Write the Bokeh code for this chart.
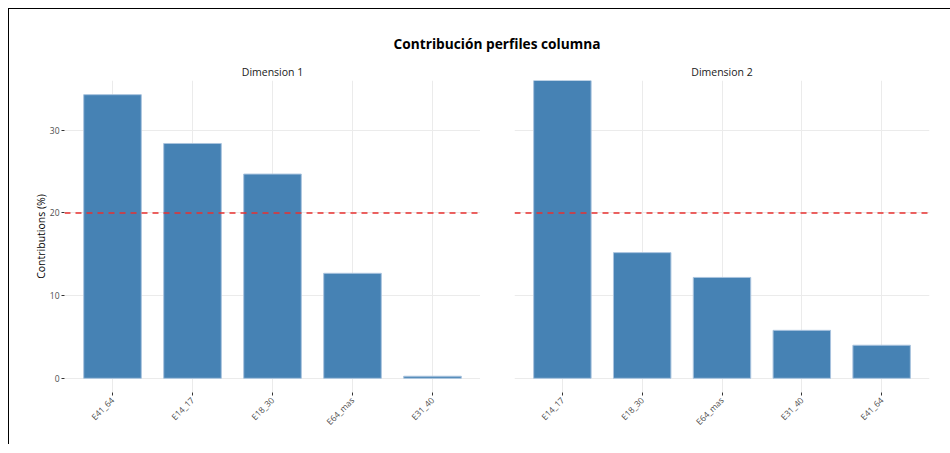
import math
from bokeh.plotting import figure
from bokeh.models import Range1d, FixedTicker, Span, Div, ColumnDataSource
from bokeh.layouts import row, column
from bokeh.embed import file_html
from bokeh.resources import INLINE

# ---- data ----
title_text = "Contribución perfiles columna"
dim1_name = "Dimension 1"
dim1_cats = ["E41_64", "E14_17", "E18_30", "E64_mas", "E31_40"]
dim1_vals = [34.3, 28.4, 24.7, 12.7, 0.25]
dim2_name = "Dimension 2"
dim2_cats = ["E14_17", "E18_30", "E64_mas", "E31_40", "E41_64"]
dim2_vals = [62.8, 15.2, 12.2, 5.8, 4.0]
ref_line = 20.0
y_ticks = [0, 10, 20, 30]
y_label = "Contributions (%)"

FONT = "Open Sans"
BAR = "#4682B4"
GRID = "#ebebeb"

ymax = max(dim1_vals)
y_lo, y_hi = -0.05 * ymax, 1.05 * ymax


def panel(name, cats, vals, left, right, show_y):
    n = len(cats)
    xs = list(range(1, n + 1))
    p = figure(output_backend="svg", toolbar_location=None,
               frame_width=416 if show_y else 415, frame_height=312,
               min_border_left=left, min_border_right=right,
               min_border_top=0, min_border_bottom=52,
               x_range=Range1d(0.4, n + 0.6), y_range=Range1d(y_lo, y_hi),
               title=name)
    p.title.align = "center"
    p.title.text_font = FONT
    p.title.text_font_size = "10.5px"
    p.title.text_font_style = "normal"
    p.title.text_color = "#1a1a1a"
    p.title.standoff = 3
    p.outline_line_color = None
    p.background_fill_color = "white"
    p.border_fill_color = "white"
    src = ColumnDataSource(dict(x=xs, top=vals))
    p.vbar(x="x", top="top", bottom=0, width=0.72, source=src,
           fill_color=BAR, line_color="#a9c3de", line_width=1)
    p.add_layout(Span(location=ref_line, dimension="width",
                      line_color="#e8312f", line_dash="6 5", line_width=1.4))
    # x axis
    p.xaxis.ticker = FixedTicker(ticks=xs)
    p.xaxis.major_label_overrides = {x: c for x, c in zip(xs, cats)}
    p.xaxis.major_label_orientation = math.pi / 4
    p.xaxis.major_label_text_font = FONT
    p.xaxis.major_label_text_font_size = "8.5px"
    p.xaxis.major_label_text_color = "#4d4d4d"
    p.xaxis.axis_line_color = None
    p.xaxis.major_tick_line_color = "#333333"
    p.xaxis.major_tick_out = 3
    p.xaxis.major_tick_in = 0
    p.xaxis.minor_tick_line_color = None
    p.xaxis.major_label_standoff = 3
    # y axis
    p.yaxis.ticker = FixedTicker(ticks=y_ticks)
    p.yaxis.major_label_text_font = FONT
    p.yaxis.major_label_text_font_size = "8.5px"
    p.yaxis.major_label_text_color = "#4d4d4d"
    p.yaxis.axis_line_color = None
    p.yaxis.major_tick_line_color = "#333333"
    p.yaxis.major_tick_out = 3
    p.yaxis.major_tick_in = 0
    p.yaxis.minor_tick_line_color = None
    p.yaxis.major_label_standoff = 2
    if show_y:
        p.yaxis.axis_label = y_label
        p.yaxis.axis_label_text_font = FONT
        p.yaxis.axis_label_text_font_size = "10.5px"
        p.yaxis.axis_label_text_font_style = "normal"
        p.yaxis.axis_label_text_color = "#000000"
        p.yaxis.axis_label_standoff = -1
    else:
        p.yaxis.visible = False
    p.xgrid.grid_line_color = GRID
    p.ygrid.grid_line_color = GRID
    p.grid.grid_line_width = 1
    return p


p1 = panel(dim1_name, dim1_cats, dim1_vals, 55, 0, True)
p2 = panel(dim2_name, dim2_cats, dim2_vals, 34, 16, False)

head = Div(text=title_text, width=936, height=42,
           styles={"font-family": FONT, "font-weight": "bold", "font-size": "13.7px",
                   "color": "#000000", "text-align": "center",
                   "padding-top": "20px", "padding-left": "30px", "box-sizing": "border-box"})

layout = column(head, row(p1, p2, spacing=0), spacing=0, margin=(8, 0, 0, 8),
                styles={"border-top": "1px solid black", "border-left": "1px solid black",
                        "background-color": "white"})

open("out.html", "w").write(file_html(layout, INLINE))
